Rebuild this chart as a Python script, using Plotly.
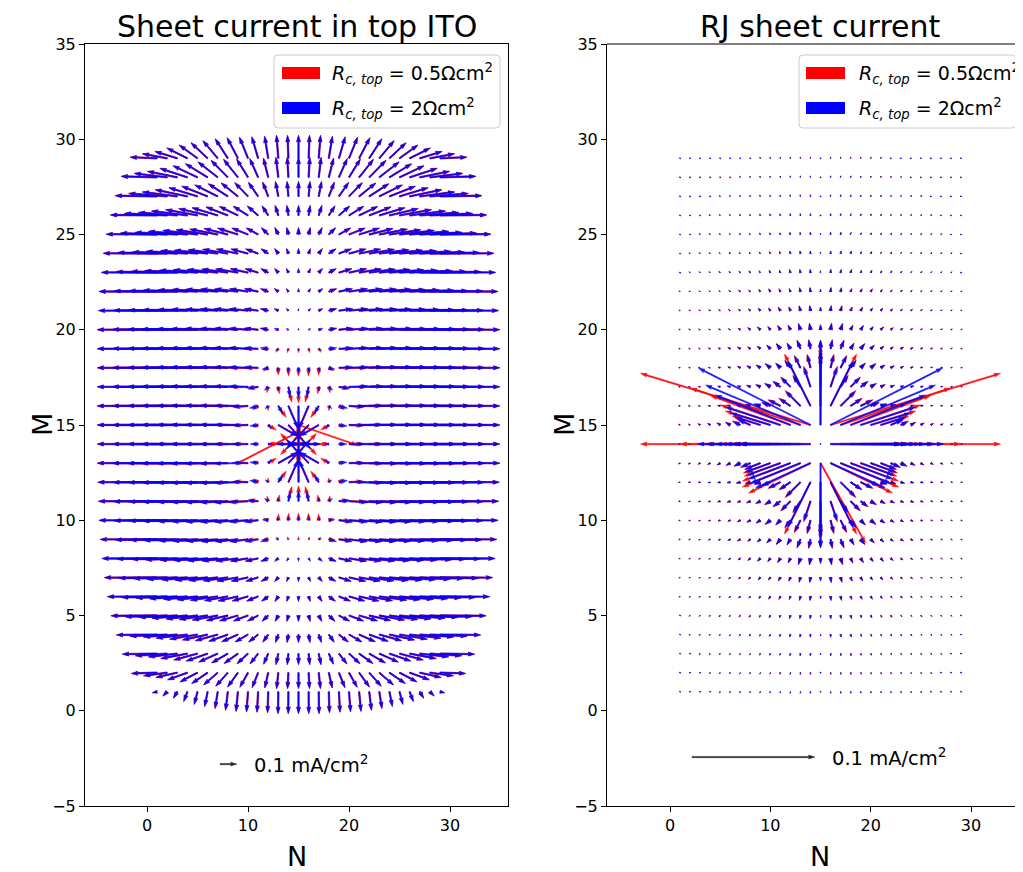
import math
import plotly.graph_objects as go

# ---------------- data ----------------
N_VALUES = list(range(1, 30))          # grid columns N
M_VALUES = list(range(1, 30))          # grid rows M
CENTER_N = 15
CENTER_M = 14

# Sheet current in top ITO (mA/cm^2)
ITO_U_ROW14 = [-0.353, -0.324, -0.294, -0.271, -0.241, -0.218, -0.194, -0.165, -0.141, -0.112,
               -0.082, -0.047, -0.024, -0.012, 0.0, 0.012, 0.024, 0.047, 0.082, 0.112,
               0.141, 0.165, 0.194, 0.218, 0.241, 0.271, 0.294, 0.324, 0.353]
ITO_U_ROW_SCALE = [0.08, 0.43, 0.58, 0.68, 0.77, 0.83, 0.88, 0.92, 0.95, 0.97,
                   0.98, 0.99, 1.0, 1.0, 1.0, 1.0, 1.0, 1.0, 1.0, 1.0,
                   0.98, 0.97, 0.93, 0.90, 0.85, 0.78, 0.70, 0.60, 0.45]
ITO_V_COL15 = [-0.129, -0.094, -0.065, -0.047, -0.035, -0.029, -0.024, -0.018, -0.015, -0.012,
               -0.009, -0.006, -0.003, 0.0, 0.002, 0.003, 0.005, 0.006, 0.007, 0.009,
               0.012, 0.018, 0.024, 0.029, 0.041, 0.059, 0.088, 0.118, 0.135]
ITO_V_COL_SCALE = [0.05, 0.20, 0.30, 0.45, 0.58, 0.68, 0.77, 0.85, 0.90, 0.92,
                   0.94, 0.96, 1.0, 1.0, 1.0, 1.0, 1.0, 0.96, 0.94, 0.92,
                   0.90, 0.85, 0.77, 0.68, 0.58, 0.45, 0.30, 0.20, 0.05]
ITO_SINK_BLUE = [0.0, 0.20, 0.15, 0.07, 0.035, 0.018, 0.0]
ITO_SINK_RED = [0.0, 0.25, 0.19, 0.10, 0.055, 0.030, 0.012]
ITO_RED_SPECIAL_N = [9, 15]
ITO_RED_SPECIAL_M = [13, 15]
ITO_RED_SPECIAL_U = [0.365, 0.350]
ITO_RED_SPECIAL_V = [0.188, -0.120]

# RJ sheet current (mA/cm^2), indexed by |N-15| or |M-14|
RJ_ROW14_U_BLUE = [0.0, 0.0919, 0.0756, 0.0610, 0.0447, 0.0301, 0.0163, 0.0081, 0.0049, 0.0033,
                   0.0024, 0.0020, 0.0016, 0.0014, 0.0012]
RJ_ROW14_U_RED = [0.0, 0.1382, 0.0976, 0.0691, 0.0488, 0.0325, 0.0179, 0.0089, 0.0053, 0.0034,
                  0.0026, 0.0020, 0.0017, 0.0015, 0.0013]
RJ_ROW15_U_BLUE = [0.0, 0.0911, 0.0772, 0.0610, 0.0447, 0.0325, 0.0203, 0.0098, 0.0057, 0.0037,
                   0.0026, 0.0020, 0.0016, 0.0014, 0.0012]
RJ_ROW15_V_BLUE = [0.0, 0.0463, 0.0325, 0.0244, 0.0146, 0.0098, 0.0065, 0.0041, 0.0028, 0.0020,
                   0.0016, 0.0013, 0.0011, 0.0009, 0.0008]
RJ_ROW15_U_RED = [0.0, 0.1382, 0.0894, 0.0650, 0.0488, 0.0366, 0.0228, 0.0106, 0.0065, 0.0041,
                  0.0028, 0.0022, 0.0018, 0.0015, 0.0013]
RJ_ROW15_V_RED = [0.0, 0.0420, 0.0300, 0.0240, 0.0163, 0.0114, 0.0073, 0.0049, 0.0033, 0.0023,
                  0.0018, 0.0014, 0.0011, 0.0010, 0.0008]
RJ_ROW13_U_BLUE = [0.0, 0.0447, 0.0407, 0.0341, 0.0268, 0.0203, 0.0122, 0.0073, 0.0049, 0.0033,
                   0.0024, 0.0020, 0.0016, 0.0014, 0.0012]
RJ_ROW13_V_BLUE = [0.0, 0.0203, 0.0163, 0.0130, 0.0098, 0.0073, 0.0049, 0.0033, 0.0024, 0.0018,
                   0.0015, 0.0011, 0.0010, 0.0008, 0.0007]
RJ_ROW13_U_RED = [0.0, 0.0504, 0.0472, 0.0390, 0.0293, 0.0220, 0.0130, 0.0081, 0.0053, 0.0034,
                  0.0026, 0.0020, 0.0017, 0.0015, 0.0013]
RJ_ROW13_V_RED = [0.0, 0.0244, 0.0195, 0.0146, 0.0106, 0.0081, 0.0053, 0.0035, 0.0026, 0.0019,
                  0.0015, 0.0012, 0.0010, 0.0009, 0.0008]
RJ_COL15_V_BLUE = [0.0, 0.0691, 0.0447, 0.0244, 0.0122, 0.0065, 0.0041, 0.0028, 0.0020, 0.0016,
                   0.0013, 0.0011, 0.0009, 0.0008, 0.0007, 0.0007]
RJ_COL15_V_RED = [0.0, 0.0650, 0.0472, 0.0260, 0.0130, 0.0069, 0.0043, 0.0030, 0.0021, 0.0017,
                  0.0014, 0.0011, 0.0010, 0.0009, 0.0008, 0.0007]
RJ_RADIAL_BLUE = [0.0, 0.0772, 0.0407, 0.0163, 0.0106, 0.0073, 0.0053, 0.0041, 0.0033, 0.0026,
                  0.0021, 0.0018, 0.0015, 0.0014, 0.0012, 0.0011, 0.0011, 0.0010, 0.0009, 0.0008,
                  0.0008, 0.0008]
RJ_RADIAL_RED = [0.0, 0.0976, 0.0472, 0.0179, 0.0114, 0.0077, 0.0055, 0.0042, 0.0033, 0.0027,
                 0.0022, 0.0019, 0.0016, 0.0014, 0.0013, 0.0012, 0.0011, 0.0010, 0.0009, 0.0009,
                 0.0008, 0.0008]
RJ_RED_SPECIAL_N = [15]
RJ_RED_SPECIAL_M = [13]
RJ_RED_SPECIAL_U = [0.0366]
RJ_RED_SPECIAL_V = [-0.0650]

KEY_VALUE = 0.1
KEY_LABEL = "0.1 mA/cm<sup>2</sup>"
SERIES_LABELS = ["<i>R</i><sub><i>c, top</i></sub> = 0.5Ωcm<sup>2</sup>",
                 "<i>R</i><sub><i>c, top</i></sub> = 2Ωcm<sup>2</sup>"]
TITLES = ["Sheet current in top ITO", "RJ sheet current"]
X_TICKS = [0, 10, 20, 30]
Y_TICKS = [-5, 0, 5, 10, 15, 20, 25, 30, 35]

# ---------------- layout / style (pixel positions in the 1023x872 frame) ----------------
W, H = 1023, 872
OFF = 8                      # page body margin of the browser
PL, PT, PB = 85, 44, 806
PW, PH = W - PL, PB - PT
AXES = [dict(x0=85, x1=508, xr=(-6.14, 35.74), scale=170.0, key=(7.23, -2.80), keytext=(252, 764),
             title_x=297, leg=(274, 500), patch=(282, 320), text_x=330),
        dict(x0=607, x1=1023, xr=(-6.28, 35.18), scale=1230.0, key=(2.19, -2.43), keytext=(830, 757),
             title_x=820, leg=(799, 1016), patch=(806, 845), text_x=857)]
YR = (-5, 35)
RED = "rgba(255,0,0,0.95)"
BLUE = "rgba(0,0,255,0.9)"
FONT = "DejaVu Sans"
SHAFT = 1.3


def sgn(a):
    return (a > 0) - (a < 0)


def ito_field(n, m, red):
    i, j = n - 1, m - 1
    u = ITO_U_ROW14[i] * ITO_U_ROW_SCALE[j]
    v = ITO_V_COL15[j] * ITO_V_COL_SCALE[i]
    dn, dm = n - CENTER_N, m - CENTER_M
    r = math.hypot(dn, dm)
    table = ITO_SINK_RED if red else ITO_SINK_BLUE
    ring = int(round(r))
    if r > 0 and ring < len(table):
        u -= table[ring] * dn / r
        v -= table[ring] * dm / r
    if red:
        for k in range(len(ITO_RED_SPECIAL_N)):
            if ITO_RED_SPECIAL_N[k] == n and ITO_RED_SPECIAL_M[k] == m:
                u, v = ITO_RED_SPECIAL_U[k], ITO_RED_SPECIAL_V[k]
    return u, v


def rj_field(n, m, red):
    dn, dm = n - CENTER_N, m - CENTER_M
    adn, adm = abs(dn), abs(dm)
    if red:
        r14, r15u, r15v, r13u, r13v = RJ_ROW14_U_RED, RJ_ROW15_U_RED, RJ_ROW15_V_RED, RJ_ROW13_U_RED, RJ_ROW13_V_RED
        c15, rad = RJ_COL15_V_RED, RJ_RADIAL_RED
    else:
        r14, r15u, r15v, r13u, r13v = RJ_ROW14_U_BLUE, RJ_ROW15_U_BLUE, RJ_ROW15_V_BLUE, RJ_ROW13_U_BLUE, RJ_ROW13_V_BLUE
        c15, rad = RJ_COL15_V_BLUE, RJ_RADIAL_BLUE
    if dn == 0 and dm == 0:
        u = v = 0.0
    elif dm == 0:
        u, v = sgn(dn) * r14[adn], 0.0
    elif dm == 1 and dn != 0:
        u, v = sgn(dn) * r15u[adn], r15v[adn]
    elif dm == -1 and dn != 0:
        u, v = sgn(dn) * r13u[adn], -r13v[adn]
    elif dn == 0:
        u, v = 0.0, sgn(dm) * c15[adm]
    else:
        r = math.hypot(dn, dm)
        mag = rad[min(int(round(r)), len(rad) - 1)]
        u, v = mag * dn / r, mag * dm / r
    if red:
        for k in range(len(RJ_RED_SPECIAL_N)):
            if RJ_RED_SPECIAL_N[k] == n and RJ_RED_SPECIAL_M[k] == m:
                u, v = RJ_RED_SPECIAL_U[k], RJ_RED_SPECIAL_V[k]
    return u, v


def arrow_poly(x, y, u, v, k, sx, sy, w=SHAFT):
    L = math.hypot(u, v) * k
    hw, hl, hal = 3 * w, 5 * w, 4.5 * w
    if L < w:
        rr = w / 2
        pts = [(rr * math.cos(a * math.pi / 3), rr * math.sin(a * math.pi / 3)) for a in range(6)]
        ang = 0.0
    else:
        if L >= hl:
            pts = [(0, -w / 2), (L - hal, -w / 2), (L - hl, -hw / 2), (L, 0),
                   (L - hl, hw / 2), (L - hal, w / 2), (0, w / 2)]
        else:
            s = L / hl
            base = [(0, -w / 2), (hl - hal, -w / 2), (0, -hw / 2), (hl, 0),
                    (0, hw / 2), (hl - hal, w / 2), (0, w / 2)]
            pts = [(px * s, py * s) for px, py in base]
        ang = math.atan2(v, u)
    c, s_ = math.cos(ang), math.sin(ang)
    xs, ys = [], []
    for px, py in pts + [pts[0]]:
        X = px * c - py * s_
        Y = px * s_ + py * c
        xs.append(x + X / sx)
        ys.append(y + Y / sy)
    xs.append(None)
    ys.append(None)
    return xs, ys


def px_scales(ax):
    sx = (ax["x1"] - ax["x0"]) / (ax["xr"][1] - ax["xr"][0])
    sy = PH / (YR[1] - YR[0])
    return sx, sy


fig = go.Figure()
fields = [ito_field, rj_field]
for a, ax in enumerate(AXES):
    sx, sy = px_scales(ax)
    xa = "x" if a == 0 else "x2"
    ya = "y" if a == 0 else "y2"
    for red, col in [(True, RED), (False, BLUE)]:
        XS, YS = [], []
        for m in M_VALUES:
            for n in N_VALUES:
                u, v = fields[a](n, m, red)
                xs, ys = arrow_poly(n, m, u, v, ax["scale"], sx, sy)
                XS += xs
                YS += ys
        fig.add_trace(go.Scatter(x=XS, y=YS, mode="lines", fill="toself", fillcolor=col,
                                 line=dict(color=col, width=0.5), hoverinfo="skip",
                                 showlegend=False, xaxis=xa, yaxis=ya))
    kx, ky = ax["key"]
    xs, ys = arrow_poly(kx, ky, KEY_VALUE, 0.0, ax["scale"], sx, sy)
    fig.add_trace(go.Scatter(x=xs, y=ys, mode="lines", fill="toself", fillcolor="#222222",
                             line=dict(color="#222222", width=0.4), hoverinfo="skip",
                             showlegend=False, xaxis=xa, yaxis=ya))


def pxx(p):
    return (p - PL) / PW


def pxy(p):
    return (PB - p) / PH


annotations = []
shapes = []
for a, ax in enumerate(AXES):
    annotations.append(dict(x=pxx(ax["title_x"]), y=pxy(OFF), xref="paper", yref="paper",
                            text=TITLES[a], showarrow=False, xanchor="center", yanchor="top",
                            borderpad=0, font=dict(family=FONT, size=30, color="black")))
    annotations.append(dict(x=pxx(ax["title_x"]), y=pxy(856), xref="paper", yref="paper",
                            text="N", showarrow=False, xanchor="center", yanchor="middle",
                            font=dict(family=FONT, size=27, color="black")))
    annotations.append(dict(x=pxx(ax["x0"] - 43), y=pxy(425), xref="paper", yref="paper",
                            text="M", showarrow=False, xanchor="center", yanchor="middle",
                            textangle=-90, font=dict(family=FONT, size=27, color="black")))
    annotations.append(dict(x=pxx(ax["keytext"][0]), y=pxy(ax["keytext"][1]), xref="paper", yref="paper",
                            text=KEY_LABEL, showarrow=False, xanchor="left", yanchor="middle",
                            font=dict(family=FONT, size=19.5, color="black")))
    lx0, lx1 = ax["leg"]
    ly0, ly1 = 55, 128
    rad = 4
    rx = rad / PW
    ry = rad / PH
    X0, X1, Y0, Y1 = pxx(lx0), pxx(lx1), pxy(ly1), pxy(ly0)
    path = (f"M {X0+rx},{Y0} L {X1-rx},{Y0} Q {X1},{Y0} {X1},{Y0+ry} L {X1},{Y1-ry} "
            f"Q {X1},{Y1} {X1-rx},{Y1} L {X0+rx},{Y1} Q {X0},{Y1} {X0},{Y1-ry} "
            f"L {X0},{Y0+ry} Q {X0},{Y0} {X0+rx},{Y0} Z")
    shapes.append(dict(type="path", path=path, xref="paper", yref="paper",
                       line=dict(color="#cccccc", width=1), fillcolor="rgba(255,255,255,0.8)",
                       layer="above"))
    for i, (col, yc) in enumerate([("#ff0000", 73), ("#0000ff", 108)]):
        shapes.append(dict(type="rect", xref="paper", yref="paper",
                           x0=pxx(ax["patch"][0]), x1=pxx(ax["patch"][1]),
                           y0=pxy(yc + 6), y1=pxy(yc - 6), fillcolor=col,
                           line=dict(width=0), layer="above"))
        annotations.append(dict(x=pxx(ax["text_x"]), y=pxy(yc), xref="paper", yref="paper",
                                text=SERIES_LABELS[i], showarrow=False, xanchor="left",
                                yanchor="middle", font=dict(family=FONT, size=19, color="black")))

shapes.append(dict(type="line", xref="paper", yref="paper", x0=pxx(AXES[1]["x0"]), x1=1.0,
                   y0=1, y1=1, line=dict(color="black", width=1), layer="above"))

axis_common = dict(showgrid=False, zeroline=False, ticks="outside", ticklen=5, tickwidth=1,
                   tickcolor="black", showline=True, linecolor="black", linewidth=1,
                   tickfont=dict(family=FONT, size=16, color="black"))

fig.update_layout(
    width=W - OFF, height=H - OFF,
    margin=dict(l=PL - OFF, r=0, t=PT - OFF, b=H - PB, pad=0),
    paper_bgcolor="white", plot_bgcolor="white", showlegend=False,
    xaxis=dict(domain=[pxx(AXES[0]["x0"]), pxx(AXES[0]["x1"])], range=list(AXES[0]["xr"]),
               tickvals=X_TICKS, mirror=True, anchor="y", **axis_common),
    yaxis=dict(domain=[0, 1], range=list(YR), tickvals=Y_TICKS, mirror=True, anchor="x", **axis_common),
    xaxis2=dict(domain=[pxx(AXES[1]["x0"]), 1.0], range=list(AXES[1]["xr"]),
                tickvals=X_TICKS, anchor="y2", **axis_common),
    yaxis2=dict(domain=[0, 1], range=list(YR), tickvals=Y_TICKS, anchor="x2", **axis_common),
    annotations=annotations, shapes=shapes,
)

fig.write_html("out.html")
